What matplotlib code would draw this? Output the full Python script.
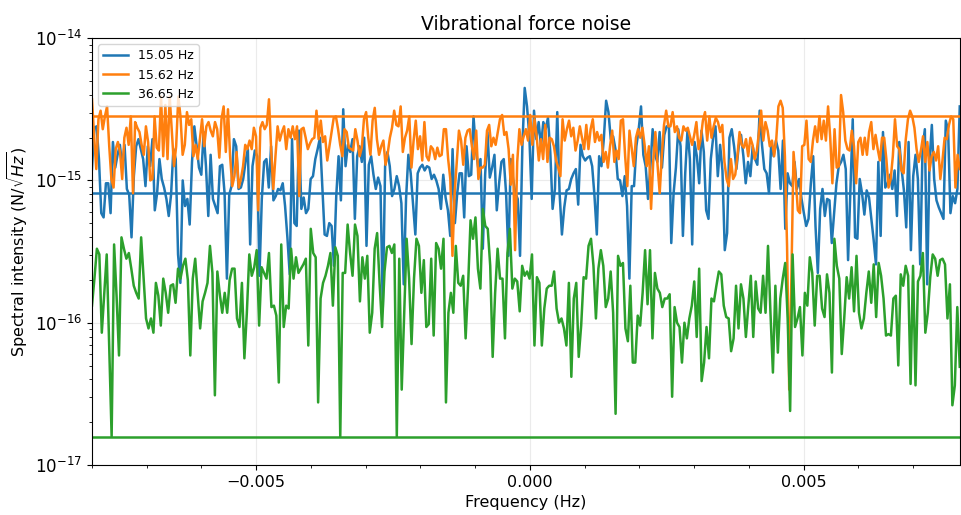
import numpy as np
import matplotlib
matplotlib.use("Agg")
import matplotlib.pyplot as plt

# frequency span of the spectra (Hz)
f_min, f_max = -0.008, 0.00785

labels = ["15.05 Hz", "15.62 Hz", "36.65 Hz"]

# log10 of spectral intensity (N/sqrt(Hz)) for each drive frequency
log_psd_1505 = [
    -14.92, -14.63, -14.62, -14.85, -15.23, -15.26, -15.02, -15.02, -15.23, -14.73, -14.91, -14.82, -14.75, -14.90, -14.75, -15.06,
    -15.10, -15.40, -14.97, -14.76, -14.71, -14.78, -14.85, -15.04, -14.76, -14.90, -14.71, -15.21, -15.09, -14.85, -14.99, -15.05,
    -15.13, -15.25, -15.10, -14.78, -14.85, -15.52, -15.72, -15.00, -15.18, -15.13, -15.31, -14.87, -14.62, -14.76, -14.91, -14.96,
    -14.66, -14.90, -15.25, -14.82, -15.13, -15.18, -15.23, -14.90, -14.89, -15.09, -15.69, -15.10, -15.04, -14.71, -14.76, -15.06,
    -15.05, -14.99, -14.87, -14.78, -15.45, -14.90, -14.79, -14.83, -15.67, -15.13, -14.87, -14.85, -15.05, -14.76, -15.14, -15.11,
    -15.06, -15.07, -15.02, -15.18, -15.40, -15.66, -14.71, -15.30, -15.32, -14.65, -15.20, -15.12, -15.23, -15.20, -14.99, -14.97,
    -14.85, -14.78, -14.70, -15.04, -15.38, -15.39, -15.30, -15.32, -15.60, -15.11, -14.83, -15.14, -14.50, -14.90, -14.75, -14.80,
    -14.71, -15.27, -14.83, -14.76, -14.87, -14.70, -15.46, -14.89, -14.83, -14.96, -15.06, -14.98, -15.04, -15.89, -14.90,
    -14.80, -14.90, -15.11, -15.06, -14.97, -15.04, -15.16, -15.73, -15.13, -14.82, -14.95, -15.17, -15.38, -14.95, -14.91, -14.89,
    -14.93, -14.90, -14.91, -14.99, -14.96, -15.00, -15.06, -15.20, -14.96, -15.12, -15.21, -15.39, -14.78, -15.30, -15.09, -14.95,
    -14.95, -15.26, -14.76, -14.97, -14.96, -14.55, -14.78, -14.91, -14.85, -15.48, -14.96, -14.66, -14.98, -14.91, -14.82, -15.21,
    -15.02, -14.87, -14.85, -15.09, -15.53, -14.85, -14.99, -15.09, -15.13, -15.53, -14.76, -14.35, -14.48, -14.69, -15.13,
    -14.51, -14.71, -14.59, -14.76, -14.59, -14.64, -14.56, -14.80, -15.20, -15.06, -14.52, -15.09, -15.38, -15.19, -15.07, -15.06,
    -14.99, -14.95, -14.92, -15.17, -14.75, -14.83, -14.86, -14.84, -14.83, -14.90, -15.11, -15.38, -14.83, -14.90, -14.71, -14.44,
    -14.52, -14.71, -14.69, -14.78, -14.99, -15.00, -15.11, -14.97, -15.18, -15.69, -15.04, -15.04, -14.76, -14.64, -14.48, -14.82,
    -14.90, -15.13, -14.91, -14.64, -14.82, -14.87, -14.66, -14.91, -14.68, -14.62, -14.62, -15.44, -15.09, -14.91, -14.64, -14.76,
    -15.39, -14.95, -14.64, -14.85, -15.45, -14.73, -14.83, -15.02, -14.65, -14.80, -15.21, -15.27, -14.85, -14.70, -14.62, -14.97,
    -14.75, -14.93, -15.49, -15.37, -14.70, -14.64, -14.76, -14.92, -14.76, -14.68, -14.83, -15.02, -14.87, -14.97, -14.76, -14.85,
    -14.89, -14.51, -14.75, -14.92, -14.95, -15.09, -14.73, -14.83, -14.72, -14.79, -15.06, -14.72, -15.34, -14.95, -15.02, -15.04,
    -14.87, -15.06, -14.99, -15.13, -15.23, -15.32, -15.27, -15.02, -14.83, -15.32, -15.65, -15.20, -15.06,
    -15.25, -15.13, -15.14, -15.44, -15.23, -15.02, -14.90, -14.87, -14.82, -14.92, -15.56, -15.06, -14.57, -15.40, -15.41, -14.99,
    -15.09, -15.24, -15.07, -15.12, -15.27, -15.42, -15.59, -14.87, -15.39, -14.66, -15.05, -15.02, -14.96, -15.06, -14.93, -15.25,
    -14.73, -14.92, -15.07, -15.33, -14.73, -15.49, -14.97, -14.82, -14.99, -15.59, -14.78, -14.64, -15.73, -14.87, -14.61, -14.99,
    -15.14, -15.19, -15.23, -15.27, -14.58, -14.65, -15.23, -15.11, -15.16, -15.06, -14.48,
]

log_psd_1562 = [
    -14.43, -14.69, -14.92, -14.57, -14.51, -14.64, -14.55, -14.48, -14.76, -14.99, -15.05, -14.78, -14.73, -14.80, -14.99, -14.70,
    -14.63, -14.75, -14.55, -15.09, -14.59, -14.63, -14.66, -14.75, -14.82, -14.62, -14.73, -15.00, -14.99, -14.55, -14.77, -14.79,
    -14.41, -14.83, -14.47, -14.85, -14.41, -14.66, -14.90, -14.76, -14.41, -14.55, -14.82, -14.75, -14.52, -14.61, -14.57, -14.83,
    -14.75, -14.85, -14.71, -14.57, -14.76, -14.62, -14.59, -14.65, -14.69, -14.59, -14.64, -14.84, -14.57, -14.48, -14.80, -14.50,
    -14.83, -15.04,
    -14.97, -14.80, -15.05, -14.99, -14.90, -14.75, -14.78, -14.72, -14.78, -14.63, -14.69, -15.21, -14.63, -14.59, -14.64, -14.61,
    -14.43, -14.78, -15.06, -14.83, -14.62, -14.72, -14.66, -14.62, -14.78, -14.64, -14.70, -14.62, -14.71, -14.62, -15.11, -14.64,
    -14.63, -14.70, -14.78, -14.74, -14.71, -14.70, -14.51, -14.71, -14.58, -14.73, -14.69, -14.86, -14.76, -14.66, -14.56, -14.55,
    -14.64, -14.75, -14.83, -14.64, -14.66, -14.77, -14.78, -14.79, -14.64, -14.72, -14.83, -14.77, -14.57, -14.52, -14.70, -14.82,
    -14.58, -14.49, -14.71, -14.82, -14.76, -14.72, -14.89, -14.81,
    -14.70, -14.63, -14.51, -14.61, -14.62, -14.48, -14.80, -14.70, -14.65, -14.55, -14.91, -14.72, -14.58, -14.78, -14.69, -14.86,
    -14.59, -14.83, -14.86, -14.76, -14.78, -14.85, -14.77, -14.83, -14.82, -14.64, -14.64, -14.85, -14.99, -15.53, -15.09, -14.87,
    -14.65, -14.72, -14.89, -14.70, -14.65, -14.64, -14.76, -14.85, -14.65, -14.99, -14.91, -14.91, -14.89, -14.65, -14.61, -14.76,
    -14.70, -14.75, -14.66, -14.57, -14.54, -14.68, -14.66, -14.78, -15.03, -14.82, -15.49, -14.87, -14.64, -14.75, -14.69, -14.64,
    -14.72, -14.54, -14.75, -14.57, -14.69, -14.86, -14.71, -14.85, -14.61, -14.87, -14.70, -14.71, -14.76, -14.86, -14.91, -14.97,
    -14.57, -14.72, -14.64, -14.58, -14.69, -14.63, -14.79, -14.72, -14.62, -14.70, -14.78, -14.61, -14.78, -14.64, -14.57, -14.73,
    -14.66, -14.72, -14.68, -14.87, -14.80, -14.91, -14.76, -14.65, -14.87, -14.79, -14.85, -14.58, -14.57, -14.83, -15.04, -14.65,
    -14.77, -14.90, -14.70, -14.64, -14.70, -14.63, -14.75, -14.90, -14.76, -15.20, -14.87, -14.66, -14.89, -15.09, -14.82, -14.61,
    -14.51, -14.62,
    -14.62, -14.52, -14.66, -14.62, -14.70, -14.72, -14.62, -14.65, -14.63, -14.69, -14.75, -14.68, -14.59, -14.78, -14.71, -14.58,
    -14.52, -14.72, -14.55, -14.70, -14.62, -14.56, -14.59, -14.66, -14.61, -14.87, -14.99, -15.04, -14.85, -14.99, -14.96, -14.83,
    -14.66, -14.75, -14.77, -14.71, -14.83, -14.70, -14.75, -14.85, -14.79, -14.66, -14.51, -14.72, -14.59, -14.65, -14.76, -14.72,
    -14.83, -14.71, -14.48, -14.44, -14.49, -14.83, -15.46, -16.47, -15.69, -14.80, -14.99, -15.21, -15.23, -14.76, -14.75, -14.58,
    -14.85, -14.87, -14.72, -14.62, -14.73, -14.55,
    -14.71, -14.58, -14.72, -14.48, -14.70, -15.02, -14.64, -14.91, -14.90, -14.40, -14.52, -14.72, -14.78, -14.79, -14.65, -14.76,
    -15.02, -14.73, -14.70, -14.82, -14.70, -14.82, -14.66, -14.59, -14.78, -14.68, -14.78, -14.86, -14.70, -14.70, -14.85, -15.05,
    -14.99, -14.83, -14.57, -14.76, -14.78, -14.93, -14.95, -14.71, -14.57, -14.51, -14.55, -14.63, -14.78, -14.87, -14.79, -14.69,
    -14.87, -14.73, -14.93, -14.83, -14.80, -14.86, -14.76, -14.99, -14.86, -14.70, -14.71, -14.61, -14.55, -14.57, -15.05, -14.82,
    -14.92,
]

log_psd_3665 = [
    -15.88, -15.69, -15.48, -15.52, -16.07, -15.79, -15.52, -16.16, -16.80, -15.45, -15.81, -16.23, -15.40, -15.48, -15.55, -15.51,
    -15.62, -15.74, -15.79, -15.83, -15.40, -15.69, -15.97, -16.04, -15.97, -16.07, -15.72, -15.81, -16.02, -15.69, -15.79, -15.93,
    -15.74, -15.73, -15.86, -15.62, -15.69, -15.60, -15.55, -15.70, -16.23, -15.69, -15.55, -15.79, -16.04, -15.85, -15.79, -15.72,
    -15.46, -15.65, -16.51, -15.64, -15.80, -15.93, -15.79, -15.93, -15.70, -15.62,
    -15.62, -15.97, -16.03, -15.72, -16.25, -15.93, -15.52, -15.67, -15.61, -15.49, -16.02, -15.61, -15.65, -15.69, -15.51, -15.89,
    -15.88, -15.95, -16.42, -15.45, -16.03, -15.88, -15.90, -15.48, -15.69, -15.54, -15.65, -15.62, -15.59, -15.55, -16.16, -15.34,
    -15.51, -15.54, -16.56, -15.83, -15.72, -15.67, -15.60, -15.51, -15.88, -15.47, -15.53, -16.80, -15.65, -15.65, -15.31, -15.51,
    -15.67, -15.31, -15.39, -15.85, -15.54, -15.69, -15.53, -16.07, -15.93, -15.48, -15.37,
    -15.72, -16.03, -15.64, -15.47, -15.46, -15.51, -15.45, -16.80, -15.55, -16.47, -15.93, -15.41, -15.69, -16.15, -15.69, -15.41,
    -15.46, -15.79, -15.56, -16.03, -16.01, -15.55, -16.09, -15.44, -15.48, -15.62, -15.41, -16.56, -15.93, -15.79, -15.93, -15.46,
    -15.72, -15.74, -15.67, -16.11, -15.74, -15.28, -15.41, -15.26, -15.62, -15.76, -15.20, -15.32, -15.34, -15.60, -16.24, -15.79,
    -15.48, -15.69, -15.69, -16.11, -15.51, -15.34, -15.76, -15.69, -15.71, -15.92, -15.60, -15.67,
    -15.64, -15.69, -15.52, -16.16, -15.68, -15.72, -16.16, -15.90, -15.76, -15.74, -15.74, -15.64, -15.90, -16.00, -15.97, -16.04,
    -16.16, -15.72, -16.38, -15.83, -15.72, -16.24, -16.02, -15.68, -15.69, -15.46, -15.41, -15.60, -15.97, -15.62, -15.49, -15.60,
    -15.89, -15.83, -15.64, -15.93, -16.64, -15.53, -15.60, -15.58, -16.04, -16.13, -15.74, -16.28, -16.28, -15.95, -16.02, -15.79,
    -15.49, -15.87, -15.49, -16.11, -15.65, -15.76, -15.79, -15.89, -15.83, -15.83, -15.80, -16.52,
    -15.89, -16.00, -16.03, -16.28, -16.00, -16.11, -15.97, -15.88, -15.71, -16.10, -15.62, -16.41, -16.28, -16.03, -16.25, -15.83,
    -15.85, -15.74, -15.64, -15.66, -15.88, -15.96, -15.97, -16.20, -16.11, -15.74, -16.04, -15.73, -15.83, -16.10, -15.88, -15.67,
    -16.10, -15.71, -15.90, -15.93, -15.67, -15.93, -15.46, -15.93, -16.35, -15.74, -16.21, -15.83, -15.69, -15.58, -15.97, -16.62,
    -15.52, -16.03, -15.97, -15.89, -16.23, -15.79, -15.88, -15.54, -15.65, -16.02, -15.67, -15.67, -15.90,
    -15.96, -15.66, -15.79, -16.35, -15.41, -15.60, -15.69, -16.22, -15.97, -15.68, -15.83, -15.61, -15.92, -15.53, -15.93, -16.04,
    -15.97, -15.79, -15.64, -15.86, -15.59, -15.96, -15.58, -15.67, -15.83, -16.09, -16.08, -16.09, -15.83, -15.81, -16.30, -15.66,
    -15.74, -15.60, -15.67, -16.43, -15.60, -16.44, -15.71, -15.67, -15.51, -16.07, -15.93, -15.68, -15.52, -15.55, -15.67, -15.56,
    -15.55, -15.59, -15.97, -15.73, -16.58, -16.44, -15.89, -16.31,
]

# reference levels drawn across the band
levels = [8.1e-16, 2.83e-15, 1.58e-17]

colors = ["tab:blue", "tab:orange", "tab:green"]

fig = plt.figure(figsize=(9.61, 5.15), dpi=100)
ax = fig.add_axes([0.0957, 0.097, 0.903, 0.829])

for log_vals, lab, c, lvl in zip([log_psd_1505, log_psd_1562, log_psd_3665], labels, colors, levels):
    freq = np.linspace(f_min, f_max, len(log_vals))
    ax.plot(freq, 10.0 ** np.array(log_vals), color=c, lw=1.8, label=lab)
    ax.axhline(lvl, color=c, lw=1.8)

ax.set_yscale("log")
ax.set_ylim(1e-17, 1e-14)
ax.set_xlim(f_min, f_max)
ax.set_xticks([-0.005, 0.0, 0.005])
ax.xaxis.set_minor_locator(matplotlib.ticker.MultipleLocator(0.001))
ax.tick_params(axis="x", which="major", labelsize=11.5)
ax.tick_params(axis="y", which="major", labelsize=12)
ax.grid(alpha=0.25)
ax.set_title("Vibrational force noise", fontsize=13.5)
ax.set_xlabel("Frequency (Hz)", fontsize=11.5)
ax.set_ylabel(r"Spectral intensity (N/$\sqrt{Hz}$)", fontsize=11.5)
ax.legend(loc="upper left", fontsize=9)

fig.savefig("out.png", dpi=100)
